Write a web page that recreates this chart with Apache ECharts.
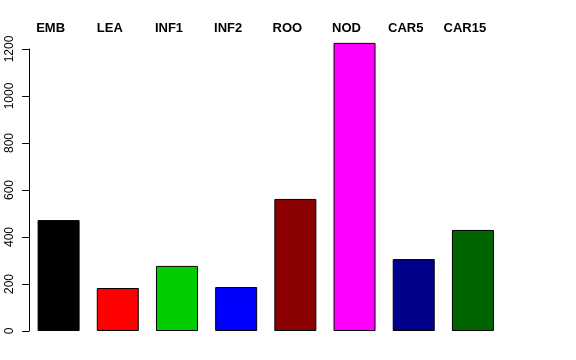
<!DOCTYPE html>
<html>
<head>
<meta charset="utf-8">
<script src="https://cdn.jsdelivr.net/npm/echarts@6/dist/echarts.min.js"></script>
<style>html,body{margin:0;padding:0;background:#fff;}#c{width:576px;height:360px;}</style>
</head>
<body>
<div id="c"></div>
<script>
const categories = ['EMB', 'LEA', 'INF1', 'INF2', 'ROO', 'NOD', 'CAR5', 'CAR15'];
const values = [472, 183, 277, 187, 562, 1226, 306, 430];
const barColors = ['#000000', '#FF0000', '#00CD00', '#0000FF', '#8B0000', '#FF00FF', '#00008B', '#006400'];
const yTicks = [0, 200, 400, 600, 800, 1000, 1200];

const chart = echarts.init(document.getElementById('c'), null, {renderer: 'canvas'});
chart.setOption({
  animation: false,
  backgroundColor: '#ffffff',
  grid: {left: 29, right: 73.5, top: 49, bottom: 29},
  xAxis: {
    type: 'category',
    position: 'top',
    data: categories,
    axisLine: {show: false},
    axisTick: {show: false},
    axisLabel: {
      interval: 0,
      margin: 14,
      fontFamily: 'Liberation Sans, Arial, sans-serif',
      fontWeight: 'bold',
      fontSize: 13,
      color: '#000',
      padding: [0, 16, 0, 0]
    }
  },
  yAxis: {
    type: 'value',
    min: yTicks[0],
    max: yTicks[yTicks.length - 1],
    interval: 200,
    splitLine: {show: false},
    axisLine: {show: true, lineStyle: {color: '#000', width: 1}},
    axisTick: {show: true, length: 7, lineStyle: {color: '#000'}},
    axisLabel: {
      rotate: 90,
      margin: 13,
      fontFamily: 'Liberation Sans, Arial, sans-serif',
      fontSize: 12,
      color: '#000',
      formatter: function (v) { return String(v); }
    }
  },
  series: [{
    type: 'bar',
    clip: false,
    barWidth: 42,
    data: values.map((v, i) => ({value: v, itemStyle: {color: barColors[i]}})),
    itemStyle: {borderColor: '#000', borderWidth: 1}
  }]
});
</script>
</body>
</html>
